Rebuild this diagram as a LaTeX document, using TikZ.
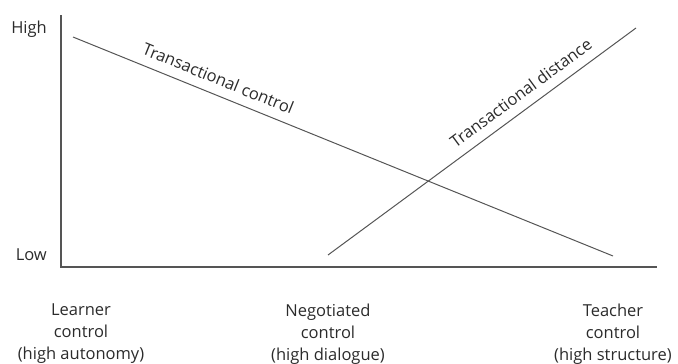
\documentclass[tikz,border=0pt]{standalone}
\usepackage{fontspec}
\setmainfont{Open Sans}
\definecolor{linea}{HTML}{555555}
\definecolor{texto}{HTML}{2B2B2B}
\begin{document}
\begin{tikzpicture}[x=1pt,y=-1pt,
    eje/.style={line width=1.1pt,linea},
    recta/.style={line width=1pt,linea},
    etiq/.style={texto,font=\fontsize{16.5}{22}\selectfont},
    pie/.style={etiq,align=center,anchor=north,inner sep=0pt}]
    \useasboundingbox (0,0) rectangle (678,364);

    % Ejes
    \coordinate (O) at (61,267);
    \coordinate (Y) at (61,15);
    \coordinate (X) at (657,267);
    \draw[eje] (Y) -- (O) -- (X);
    \node[etiq,anchor=base east,inner sep=0pt] (high) at (47,33) {High};
    \node[etiq,anchor=base east,inner sep=0pt] (low) at (47,260) {Low};

    % Control transaccional
    \coordinate (C1) at (73,37);
    \coordinate (C2) at (613,256);
    \draw[recta] (C1) -- (C2)
        node[etiq,pos=0.258,sloped,above=6pt] (tc) {Transactional control};

    % Distancia transaccional
    \coordinate (D1) at (328,255);
    \coordinate (D2) at (636,28);
    \draw[recta] (D1) -- (D2)
        node[etiq,pos=0.657,sloped,above=6pt] (td) {Transactional distance};

    % Etiquetas del eje horizontal
    \node[pie] (learner) at (81,304) {Learner\\control\\(high autonomy)};
    \node[pie] (negot) at (328,304) {Negotiated\\control\\(high dialogue)};
    \node[pie] (teacher) at (613,304) {Teacher\\control\\(high structure)};
\end{tikzpicture}
\end{document}
